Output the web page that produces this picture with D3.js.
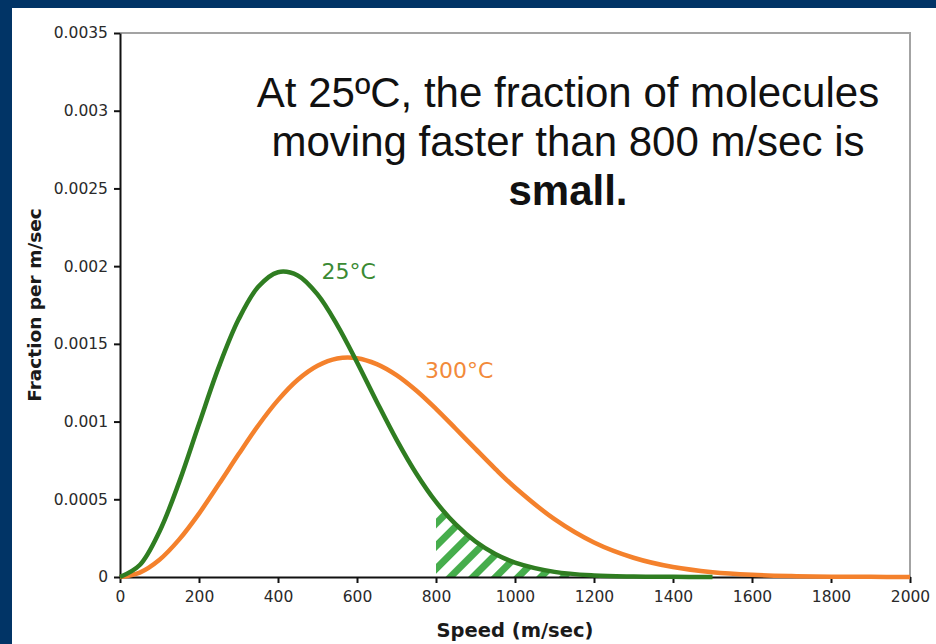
<!DOCTYPE html>
<html><head><meta charset="utf-8">
<script src="https://cdn.jsdelivr.net/npm/d3@7"></script>
<style>html,body{margin:0;padding:0;background:#013466;overflow:hidden;}</style>
</head><body>
<svg id="chart" width="936" height="644"></svg>
<script>
// ---- data ----
const speed25 = [0,50,100,150,200,250,300,350,400,450,500,550,600,650,700,750,800,850,900,950,1000,1100,1200,1300,1400,1500];
const frac25  = [0,0.000077,0.000293,0.000612,0.000984,0.00135,0.001656,0.001867,0.001961,0.00194,0.001818,0.001621,0.001382,0.001128,0.000884,0.000666,0.000483,0.000338,0.000228,0.000148,0.000093,0.000033,0.00001,0.000003,0.000001,0];
const speed300 = [0,50,100,150,200,250,300,350,400,450,500,550,600,650,700,750,800,850,900,950,1000,1100,1200,1300,1400,1500,1600,1700,1800,1900,2000];
const frac300  = [0,0.0000285,0.000111,0.000242,0.000408,0.000596,0.000789,0.000975,0.001138,0.001269,0.001359,0.001406,0.001408,0.00137,0.001299,0.0012,0.001082,0.000954,0.000824,0.000696,0.000576,0.000372,0.000222,0.000124,0.000064,0.000031,0.000014,0.000006,0.000002,0.000001,0];
const xTicks = [0,200,400,600,800,1000,1200,1400,1600,1800,2000];
const yTicks = [0,0.0005,0.001,0.0015,0.002,0.0025,0.003,0.0035];
const yTickLabels = ["0","0.0005","0.001","0.0015","0.002","0.0025","0.003","0.0035"];
const shadeFrom = 800;
const seriesLabels = ["25°C","300°C"];
const titleLines = ["At 25ºC, the fraction of molecules","moving faster than 800 m/sec is","small."];
const xTitle = "Speed (m/sec)";
const yTitle = "Fraction per m/sec";

// ---- drawing ----
const svg = d3.select("#chart");
const W = 936, H = 644;
const m = {left:120, right:26, top:33, bottom:67};
const x = d3.scaleLinear().domain([0,2000]).range([m.left, W - m.right]);
const y = d3.scaleLinear().domain([0,0.0035]).range([H - m.bottom, m.top]);

svg.append("rect").attr("x",12).attr("y",8).attr("width",W-12).attr("height",H-8).attr("fill","#fff");

const defs = svg.append("defs");
const pat = defs.append("pattern").attr("id","hatch").attr("patternUnits","userSpaceOnUse")
  .attr("width",16).attr("height",16).attr("patternTransform","rotate(45) translate(3,0)");
pat.append("rect").attr("width",7).attr("height",16).attr("fill","#46ad4c");

// frame (top/right grey)
svg.append("path")
  .attr("d", `M${x(0)},${y(0.0035)}H${x(2000)}V${y(0)}`)
  .attr("fill","none").attr("stroke","#a3a3a3").attr("stroke-width",2);

const g25 = speed25.map((s,i)=>[s,frac25[i]]);
const g300 = speed300.map((s,i)=>[s,frac300[i]]);
const curve = d3.curveCatmullRom.alpha(0.5);
const yc = v => Math.min(y(0), y(v));

// hatch area
const shadePts = g25.filter(d=>d[0]>=shadeFrom);
svg.append("path").datum(shadePts)
  .attr("d", d3.area().x(d=>x(d[0])).y0(y(0)).y1(d=>y(d[1])).curve(curve))
  .attr("fill","url(#hatch)");

const line = d3.line().x(d=>x(d[0])).y(d=>y(d[1])).curve(curve);

// axes
const xAxis = svg.append("g").attr("transform",`translate(0,${y(0)})`)
  .call(d3.axisBottom(x).tickValues(xTicks).tickFormat(d3.format("d")).tickSize(6).tickSizeOuter(0).tickPadding(8));
const yAxis = svg.append("g").attr("transform",`translate(${x(0)},0)`)
  .call(d3.axisLeft(y).tickValues(yTicks).tickFormat((d,i)=>yTickLabels[i]).tickSize(6).tickSizeOuter(0).tickPadding(6));
[xAxis,yAxis].forEach(a=>{
  a.select(".domain").attr("stroke","#111").attr("stroke-width",2);
  a.selectAll(".tick line").attr("stroke","#111").attr("stroke-width",2);
  a.selectAll(".tick text").attr("fill","#2a2a2a").style("font-family","'DejaVu Sans', Verdana, sans-serif").style("font-size","15.5px");
});

// curves: orange first, then green
svg.append("path").datum(g300).attr("d",line).attr("fill","none").attr("stroke","#f4812c").attr("stroke-width",4.5).attr("stroke-linejoin","round");
svg.append("path").datum(g25).attr("d",line).attr("fill","none").attr("stroke","#2f7d21").attr("stroke-width",4.5).attr("stroke-linejoin","round");

// series labels
svg.append("text").attr("x",x(510)).attr("y",y(0.00192)).text(seriesLabels[0])
  .attr("fill","#3a8a33").style("font-family","'DejaVu Sans', Verdana, sans-serif").style("font-size","22px");
svg.append("text").attr("x",x(772)).attr("y",y(0.00128)).text(seriesLabels[1])
  .attr("fill","#f28a3a").style("font-family","'DejaVu Sans', Verdana, sans-serif").style("font-size","22px");

// title text
const tt = svg.append("text").attr("text-anchor","middle").attr("fill","#111")
  .style("font-family","'Liberation Sans', Arial, sans-serif").style("font-size","42px");
const baselines = [107,156,205];
titleLines.forEach((t,i)=>{
  tt.append("tspan").attr("x",568).attr("y",baselines[i]).text(t).style("font-weight", i===2 ? "bold" : "normal");
});

// axis titles
svg.append("text").attr("x",515).attr("y",637).attr("text-anchor","middle").text(xTitle)
  .attr("fill","#1a1a1a").style("font-family","'DejaVu Sans', Verdana, sans-serif").style("font-weight","bold").style("font-size","19.5px");
svg.append("text").attr("transform","translate(41,305) rotate(-90)").attr("text-anchor","middle").text(yTitle)
  .attr("fill","#1a1a1a").style("font-family","'DejaVu Sans', Verdana, sans-serif").style("font-weight","bold").style("font-size","18.5px");
</script>
</body></html>
